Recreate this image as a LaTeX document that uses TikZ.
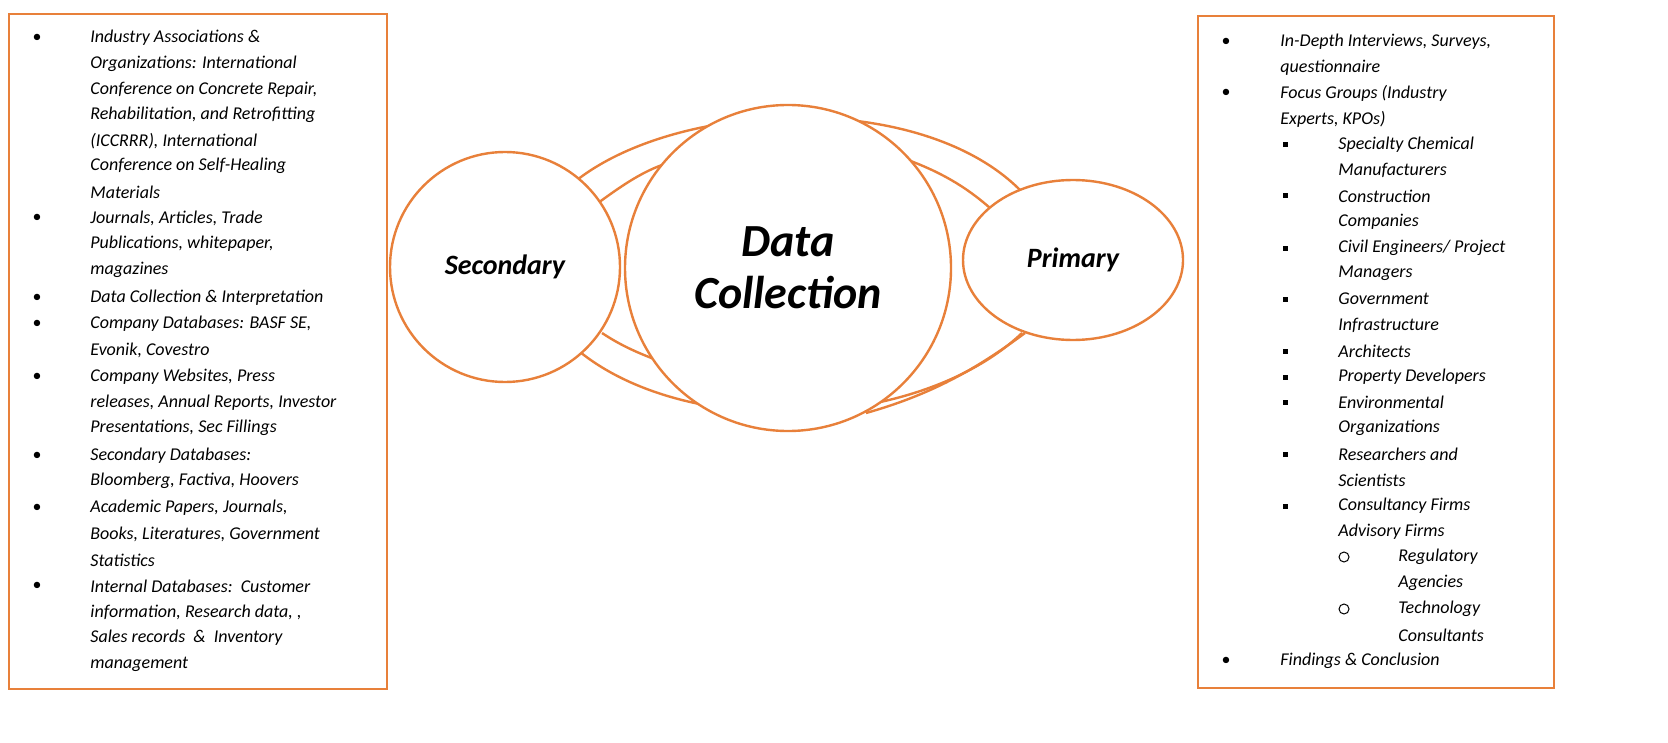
\documentclass[tikz,border=0pt]{standalone}
\usetikzlibrary{shapes.geometric}
\usepackage{fontspec}
\setmainfont{Carlito}
\begin{document}
\begin{tikzpicture}[x=0.5pt,y=-0.5pt,
  ol/.style={draw=orgc,line width=1.2pt},
  tx/.style={anchor=west,inner sep=0pt,font=\fontsize{9}{11}\selectfont\itshape},
  mk/.style={anchor=center,inner sep=0pt,font=\fontsize{9}{11}\selectfont}]
\definecolor{orgc}{HTML}{E8803A}
\useasboundingbox (0,0) rectangle (1668,743);
\fill[white] (0,0) rectangle (1668,743);
\node[ol,rectangle,minimum width=189pt,minimum height=337.5pt,anchor=north west] (lbox) at (8,13) {};
\node[ol,rectangle,minimum width=178pt,minimum height=336pt,anchor=north west] (rbox) at (1197,15) {};
% connectors
\draw[ol] (577,180) .. controls (680,100) and (920,90) .. (1020,190);
\draw[ol] (580,352) .. controls (690,440) and (920,430) .. (1022,333);
\draw[ol] (598,203) .. controls (620,187) and (640,173) .. (662,165);
\draw[ol] (602,333) .. controls (620,345) and (636,352) .. (654,359);
\draw[ol] (908,160) .. controls (940,172) and (965,186) .. (990,208);
\draw[ol] (866,413) .. controls (930,395) and (975,370) .. (1025,333);
\node[ol,circle,fill=white,minimum size=115pt,font=\fontsize{14}{16}\selectfont\bfseries\itshape] (sec) at (505,267) {Secondary};
\node[ol,ellipse,fill=white,minimum width=110pt,minimum height=80pt,font=\fontsize{14}{16}\selectfont\bfseries\itshape] (pri) at (1073,260) {Primary};
\node[ol,circle,fill=white,minimum size=163pt,align=center,font=\fontsize{23}{26}\selectfont\bfseries\itshape] (dc) at (788,268) {Data\\Collection};
% left list
\foreach \y/\t/\b in {38/{Industry Associations \&}/1,64/{Organizations: International}/0,90/{Conference on Concrete Repair,}/0,115/{Rehabilitation, and Retrofitting}/0,141/{(ICCRRR), International}/0,166/{Conference on Self-Healing}/0,192/{Materials}/0,
 218/{Journals, Articles, Trade}/1,244/{Publications, whitepaper,}/0,270/{magazines}/0,298/{Data Collection \& Interpretation}/1,324/{Company Databases: BASF SE,}/1,350/{Evonik, Covestro}/0,
 377/{Company Websites, Press}/1,403/{releases, Annual Reports, Investor}/0,428/{Presentations, Sec Fillings}/0,456/{Secondary Databases:}/1,481/{Bloomberg, Factiva, Hoovers}/0,
 508/{Academic Papers, Journals,}/1,534/{Books, Literatures, Government}/0,560/{Statistics}/0,586/{Internal Databases:\ \ Customer}/1,612/{information, Research data, ,}/0,638/{Sales records\ \ \&\ \ Inventory}/0,664/{management}/0}
 {\node[tx] (l\y) at (90,\y) {\t};
  \ifnum\b=1 \node[mk] (lb\y) at (37,\y) {\textbullet};\fi}
% right list
\foreach \y/\t/\b/\x in {42/{In-Depth Interviews, Surveys,}/1/1280,68/{questionnaire}/0/1280,93/{Focus Groups (Industry}/1/1280,119/{Experts, KPOs)}/0/1280,
 145/{Specialty Chemical}/2/1338,170/{Manufacturers}/0/1338,196/{Construction}/2/1338,222/{Companies}/0/1338,248/{Civil Engineers/ Project}/2/1338,273/{Managers}/0/1338,
 299/{Government}/2/1338,325/{Infrastructure}/0/1338,351/{Architects}/2/1338,377/{Property Developers}/2/1338,402/{Environmental}/2/1338,428/{Organizations}/0/1338,
 454/{Researchers and}/2/1338,480/{Scientists}/0/1338,506/{Consultancy Firms}/2/1338,532/{Advisory Firms}/0/1338,557/{Regulatory}/3/1398,583/{Agencies}/0/1398,
 609/{Technology}/3/1398,635/{Consultants}/0/1398,661/{Findings \& Conclusion}/1/1280}
 {\node[tx] (r\y) at (\x,\y) {\t};
  \ifnum\b=1 \node[mk] (rb\y) at (1226,\y) {\textbullet};\fi
  \ifnum\b=2 \fill (1282.5,\y-2.5) rectangle (1287.5,\y+2.5);\fi
  \ifnum\b=3 \draw[line width=0.5pt] (1344,\y) circle (2.5pt);\fi}
\end{tikzpicture}
\end{document}
